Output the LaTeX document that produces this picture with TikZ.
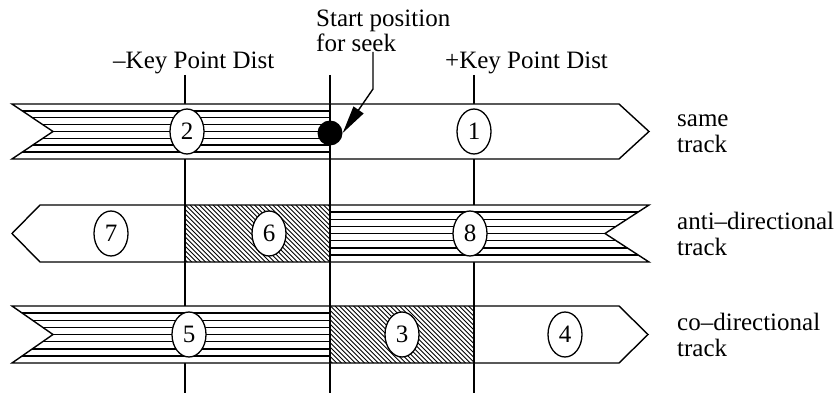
\documentclass[tikz,border=0pt]{standalone}
\usepackage{fontspec}
\setmainfont{Liberation Serif}
\usetikzlibrary{shapes.geometric,arrows.meta}

% horizontal stripes inside a box: x1, x2, top, bottom
\newcommand\hstripes[4]{%
  \foreach \k in {1,...,7}
    \draw[hline] (#1,{#3+\k*(#4-#3)/8}) -- (#2,{#3+\k*(#4-#3)/8});}
% diagonal hatching inside a box: x1, x2, top, bottom
\newcommand\dstripes[4]{%
  \begin{scope}
    \clip (#1,#3) rectangle (#2,#4);
    \foreach \s in {0,...,48}
      \draw[dline] ({#1-64+4.6*\s},#3) -- ++(64,64);
  \end{scope}}

\begin{document}
\begin{tikzpicture}[x=1pt,y=-1pt,
  guide/.style={line width=1.4pt},
  outline/.style={line width=1.4pt, line join=miter},
  hline/.style={line width=1.5pt},
  dline/.style={line width=0.9pt},
  numnode/.style={ellipse, draw, line width=1.3pt, fill=white,
    minimum width=34pt, minimum height=45pt, inner sep=0pt,
    font=\fontsize{25}{25}\selectfont},
  lbl/.style={font=\fontsize{25}{26}\selectfont, inner sep=0pt, anchor=base west},
  seekdot/.style={circle, fill=black, minimum size=25pt, inner sep=0pt},
]
\useasboundingbox (0,0) rectangle (838,393);

% vertical guide lines
\coordinate (gLt) at (185,75);  \coordinate (gLb) at (185,393);
\coordinate (gMt) at (330,75);  \coordinate (gMb) at (330,393);
\coordinate (gRt) at (474,75);  \coordinate (gRb) at (474,393);
\draw[guide] (gLt) -- (gLb);
\draw[guide] (gMt) -- (gMb);
\draw[guide] (gRt) -- (gRb);

% ---- same track (top) ----
\def\trackA{(12,104) -- (619,104) -- (649,131.5) -- (619,159) -- (12,159) -- (53,131.5) -- cycle}
\fill[white] \trackA;
\begin{scope}
  \clip \trackA;
  \hstripes{0}{330}{104}{159}
\end{scope}
\draw[outline] (330,104) -- (330,159);
\draw[outline] \trackA;

% ---- anti-directional track (middle) ----
\def\trackB{(40,205) -- (649,205) -- (605,233.5) -- (649,262) -- (40,262) -- (12,233.5) -- cycle}
\fill[white] \trackB;
\begin{scope}
  \clip \trackB;
  \dstripes{185}{330}{205}{262}
  \hstripes{330}{660}{205}{262}
\end{scope}
\draw[outline] (185,205) -- (185,262);
\draw[outline] (330,205) -- (330,262);
\draw[outline] \trackB;

% ---- co-directional track (bottom) ----
\def\trackC{(12,306) -- (619,306) -- (648,334.5) -- (619,363) -- (12,363) -- (53,334.5) -- cycle}
\fill[white] \trackC;
\begin{scope}
  \clip \trackC;
  \hstripes{0}{330}{306}{363}
  \dstripes{330}{474}{306}{363}
\end{scope}
\draw[outline] (330,306) -- (330,363);
\draw[outline] (474,306) -- (474,363);
\draw[outline] \trackC;

% numbered zones
\node[numnode] (n2) at (187,131.5) {2};
\node[numnode] (n1) at (474,131.5) {1};
\node[numnode] (n7) at (111,233.5) {7};
\node[numnode] (n6) at (269,233.5) {6};
\node[numnode] (n8) at (470,233.5) {8};
\node[numnode] (n5) at (189,334.5) {5};
\node[numnode] (n3) at (402,334.5) {3};
\node[numnode] (n4) at (565,334.5) {4};

% seek start point and its pointer
\node[seekdot] (seek) at (330,133) {};
\coordinate (lead) at (373,52);
\coordinate (bend) at (373,89);
\draw[line width=1.4pt, -{Triangle[length=28pt,width=12pt]}] (lead) -- (bend) -- (seek.east);

% labels
\node[lbl] (start1) at (316,27) {Start position};
\node[lbl] (start2) at (316,52) {for seek};
\node[lbl] (kminus) at (113,69) {–Key Point Dist};
\node[lbl] (kplus) at (445,69) {+Key Point Dist};
\node[lbl] (sA1) at (677,127) {same};
\node[lbl] (sA2) at (677,153) {track};
\node[lbl] (sB1) at (677,229) {anti–directional};
\node[lbl] (sB2) at (677,255) {track};
\node[lbl] (sC1) at (677,330) {co–directional};
\node[lbl] (sC2) at (677,356) {track};
\end{tikzpicture}
\end{document}
